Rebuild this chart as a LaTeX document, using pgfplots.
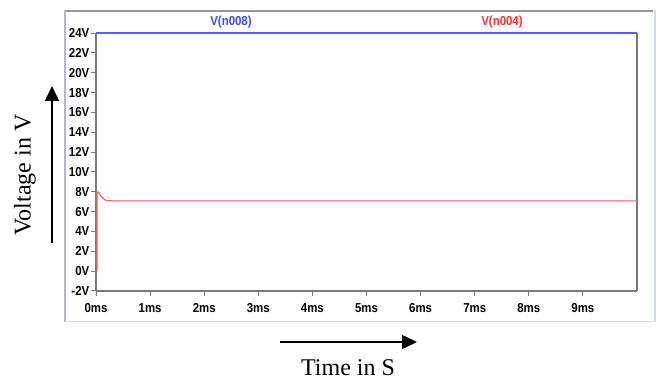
\documentclass[border=0pt]{standalone}
\usepackage{pgfplots}
\pgfplotsset{compat=1.18}
\usepackage{fontspec}
\setmainfont{Liberation Serif}
\newfontfamily\ltfont[FakeStretch=0.88]{Liberation Sans}
\usetikzlibrary{arrows.meta}

\definecolor{tracered}{RGB}{255,90,90}
\definecolor{traceblue}{RGB}{90,90,255}
\definecolor{labelred}{RGB}{255,50,50}
\definecolor{labelblue}{RGB}{70,70,255}
\definecolor{framegray}{RGB}{120,120,120}
\definecolor{panelgray}{RGB}{150,150,150}
\definecolor{panelblue}{RGB}{175,185,205}
\definecolor{panellight}{RGB}{205,220,245}

\begin{document}
\begin{tikzpicture}[x=1pt,y=1pt]
  % overall canvas
  \useasboundingbox (0,0) rectangle (659,383);

  % waveform window panel
  \fill[white] (65,61) rectangle (655,373);
  \draw[line width=2pt, panelgray] (65,372) -- (653,372);
  \draw[line width=1.5pt, panelblue] (65,373) -- (65,61);
  \draw[line width=1pt, gray!25] (65,61) -- (653,61);
  \draw[line width=1.5pt, panellight] (655,373) -- (655,61);

  \begin{axis}[
    at={(96pt,92pt)}, anchor=south west,
    scale only axis, width=541pt, height=258pt,
    xmin=0, xmax=10, ymin=-2, ymax=24,
    axis x line*=bottom, axis y line*=left,
    axis line style={framegray, line width=1.3pt, -},
    xtick={0,...,9}, ytick={-2,0,...,24},
    tick align=outside, major tick length=5pt,
    tick style={framegray, line width=1pt},
    /pgf/number format/assume math mode=true,
    xticklabel={\pgfmathprintnumber{\tick}ms},
    yticklabel={\pgfmathprintnumber{\tick}V},
    ticklabel style={font=\ltfont\bfseries\fontsize{13}{14}\selectfont, black},
    xticklabel style={yshift=-4pt},
    yticklabel style={inner sep=1.5pt},
    clip=false,
  ]
    % right-hand frame edge
    \draw[framegray, line width=2.5pt] (rel axis cs:1,0) -- (rel axis cs:1,1);

    % V(n004)
    \addplot[tracered, line width=1.2pt] coordinates {
      (0.02,0) (0.02,8.0) (0.05,7.9) (0.08,7.65) (0.12,7.4)
      (0.16,7.2) (0.2,7.12) (0.3,7.08) (10,7.08)
    };
    % V(n008)
    \addplot[traceblue, line width=1.2pt] coordinates {
      (0,24) (10,24)
    };
  \end{axis}

  % trace names
  \node[font=\ltfont\bfseries\fontsize{13}{14}\selectfont, labelblue] at (231,361) {V(n008)};
  \node[font=\ltfont\bfseries\fontsize{13}{14}\selectfont, labelred] at (502,361) {V(n004)};

  % axis annotations
  \node[rotate=90, font=\fontsize{24}{27}\selectfont] at (25,208) {Voltage in V};
  \draw[line width=1.5pt, -{Triangle[length=15pt,width=14pt]}] (52,140) -- (52,297);
  \node[font=\fontsize{24}{27}\selectfont] at (348,15) {Time in S};
  \draw[line width=1.5pt, -{Triangle[length=15pt,width=14pt]}] (280,41) -- (417,41);
\end{tikzpicture}
\end{document}
